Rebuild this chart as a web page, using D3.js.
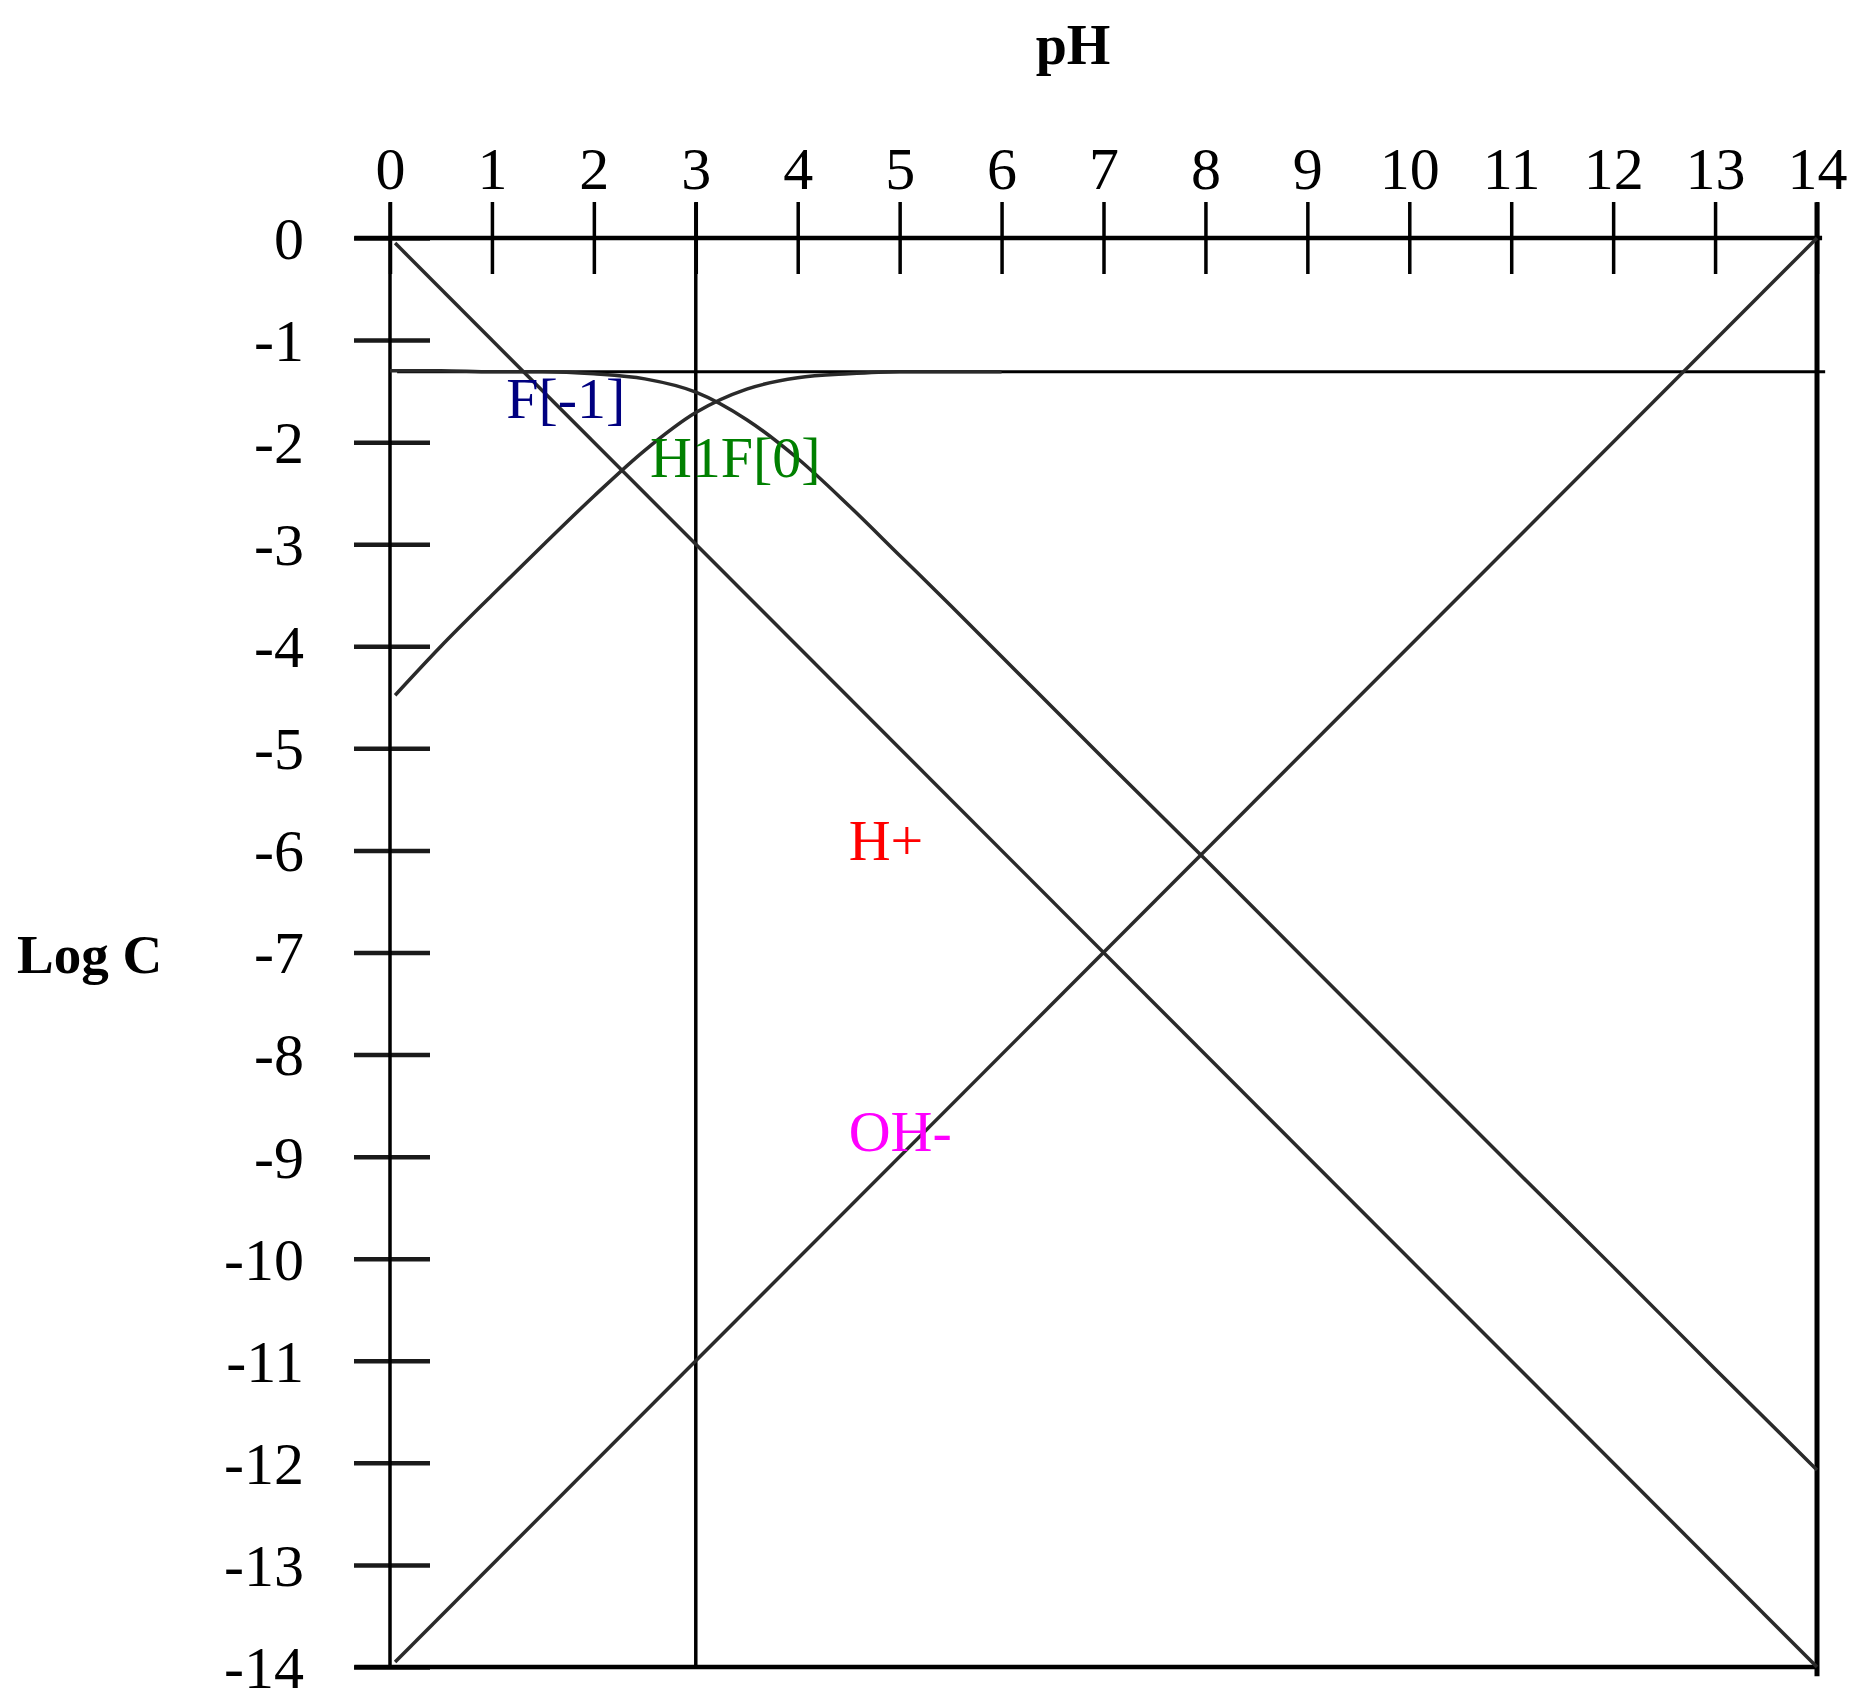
<!DOCTYPE html>
<html>
<head>
    <title>Log C - pH diagram, HF</title>
    <script src="https://d3js.org/d3.v7.min.js"></script>
    <style>
        body { margin: 0; background: #fff; }
        text { font-family: "Liberation Serif", "Times New Roman", serif; }
        .frame { stroke: #000; }
        .curve { fill: none; stroke: #2a2a2a; stroke-width: 3.5px; }
    </style>
</head>
<body>
    <div id="chart"></div>

    <script>
        // axis ticks
        let phTicks = d3.range(0, 15);
        let logTicks = d3.range(0, -15, -1);

        // straight species lines, read at the ends
        let hPlus = [[0.05, -0.05], [14, -14]];
        let ohMinus = [[0.05, -13.95], [14, 0]];
        let total = [[0.07, -1.31], [14.08, -1.31]];

        // H1F[0]
        let hfPH  = [0, 0.5, 1, 1.5, 2, 2.5, 3, 3.5, 4, 4.5, 5, 5.5, 6, 7, 8, 9, 10, 11, 12, 13, 14];
        let hfLog = [-1.30, -1.30, -1.31, -1.31, -1.33, -1.38, -1.51, -1.78, -2.16, -2.62, -3.11, -3.60, -4.10,
                     -5.10, -6.09, -7.09, -8.09, -9.09, -10.08, -11.08, -12.07];

        // F[-1]
        let fPH  = [0.05, 0.5, 1, 1.5, 2, 2.5, 3, 3.5, 4, 4.5, 5, 5.5, 6];
        let fLog = [-4.48, -4.00, -3.50, -3.01, -2.53, -2.08, -1.71, -1.48, -1.37, -1.33, -1.31, -1.31, -1.31];

        let labels = [
            {text: "F[-1]", color: "#000080", ph: 1.14, log: -1.76},
            {text: "H1F[0]", color: "#008000", ph: 2.55, log: -2.34},
            {text: "H+", color: "#ff0000", ph: 4.5, log: -6.09},
            {text: "OH-", color: "#ff00ff", ph: 4.5, log: -8.94}
        ];

        let svg = d3.select("#chart").append("svg")
            .attr("width", 1860)
            .attr("height", 1696);

        svg.append("rect").attr("width", 1860).attr("height", 1696).attr("fill", "#fff");

        let x = d3.scaleLinear().domain([0, 14]).range([390, 1817]);
        let y = d3.scaleLinear().domain([0, -14]).range([238, 1667]);

        // top axis, ticks cross the line
        let xAxis = svg.append("g")
            .attr("transform", `translate(0,${y(0)})`)
            .call(d3.axisTop(x).tickValues(phTicks).tickFormat(d3.format("d")));
        xAxis.select(".domain").remove();
        xAxis.selectAll(".tick line")
            .attr("y1", 36).attr("y2", -36)
            .attr("stroke", "#000").attr("stroke-width", 3.5);
        xAxis.selectAll(".tick text")
            .attr("y", -49).attr("dy", 0)
            .attr("font-size", 60).attr("fill", "#000")
            .style("font-family", "Liberation Serif");

        // left axis, short ticks across the line
        let yAxis = svg.append("g")
            .attr("transform", `translate(${x(0)},0)`)
            .call(d3.axisLeft(y).tickValues(logTicks).tickFormat(d3.format("d")));
        yAxis.select(".domain").remove();
        yAxis.selectAll(".tick line")
            .attr("x1", -36).attr("x2", 40)
            .attr("stroke", "#1a1a1a").attr("stroke-width", 4.5);
        yAxis.selectAll(".tick text")
            .attr("x", -86).attr("dy", "0.34em")
            .attr("font-size", 60).attr("fill", "#000")
            .style("font-family", "Liberation Serif")
            .text(d => d === 0 ? "0" : "-" + Math.abs(d));

        // frame lines
        let frame = [
            [-0.35, 0, 14.05, 0],
            [-0.35, -14, 14, -14],
            [0, 0.35, 0, -14],
            [14, 0.35, 14, -14.09],
            [3, 0.35, 3, -14]
        ];
        svg.selectAll(".frame")
            .data(frame)
            .enter().append("line")
            .attr("class", "frame")
            .attr("x1", d => x(d[0]))
            .attr("y1", d => y(d[1]))
            .attr("x2", d => x(d[2]))
            .attr("y2", d => y(d[3]))
            .attr("stroke", (d, i) => i >= 3 ? "#333" : "#000")
            .attr("stroke-width", (d, i) => i < 2 ? 4.5 : (i === 3 ? 5 : 3.5));

        let line = d3.line().x(d => x(d[0])).y(d => y(d[1]));
        let smooth = d3.line().x(d => x(d[0])).y(d => y(d[1])).curve(d3.curveMonotoneX);

        svg.append("path").attr("class", "curve").attr("d", line(total)).style("stroke", "#000").style("stroke-width", "3px");
        svg.append("path").attr("class", "curve").attr("d", line(hPlus));
        svg.append("path").attr("class", "curve").attr("d", line(ohMinus));
        svg.append("path").attr("class", "curve").attr("d", smooth(d3.zip(hfPH, hfLog)));
        svg.append("path").attr("class", "curve").attr("d", smooth(d3.zip(fPH, fLog)));

        // species labels
        svg.selectAll(".species")
            .data(labels)
            .enter().append("text")
            .attr("class", "species")
            .attr("x", d => x(d.ph))
            .attr("y", d => y(d.log))
            .attr("font-size", 58)
            .attr("fill", d => d.color)
            .text(d => d.text);

        // axis titles
        svg.append("text")
            .attr("x", 1073).attr("y", 64)
            .attr("text-anchor", "middle")
            .attr("font-size", 56).attr("font-weight", "bold")
            .text("pH");

        svg.append("text")
            .attr("x", 17).attr("y", 973)
            .attr("font-size", 55).attr("font-weight", "bold")
            .text("Log C");
    </script>
</body>
</html>
